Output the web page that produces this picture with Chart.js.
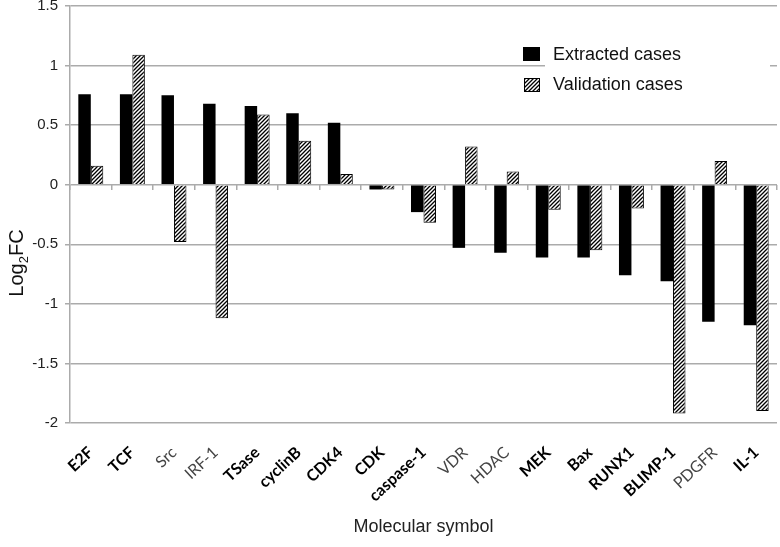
<!DOCTYPE html>
<html>
<head>
<meta charset="utf-8">
<script src="https://cdn.jsdelivr.net/npm/chart.js@4.4.1/dist/chart.umd.min.js"></script>
<style>
  html, body { margin: 0; padding: 0; background: #fff; }
  #wrap { width: 780px; height: 547px; position: relative; }
</style>
</head>
<body>
<div id="wrap"><canvas id="myChart" width="780" height="547"></canvas></div>
<script>
const categories = ["E2F", "TCF", "Src", "IRF-1", "TSase", "cyclinB", "CDK4", "CDK", "caspase-1",
    "VDR", "HDAC", "MEK", "Bax", "RUNX1", "BLIMP-1", "PDGFR", "IL-1"];
const extractedCases = [0.76, 0.76, 0.75, 0.68, 0.66, 0.60, 0.52, -0.04, -0.23,
    -0.53, -0.57, -0.61, -0.61, -0.76, -0.81, -1.15, -1.18];
const validationCases = [0.16, 1.09, -0.48, -1.12, 0.59, 0.37, 0.09, -0.04, -0.32,
    0.32, 0.11, -0.21, -0.55, -0.20, -1.92, 0.20, -1.90];
const boldLabels = ["E2F", "TCF", "TSase", "cyclinB", "CDK4", "CDK", "caspase-1",
    "MEK", "Bax", "RUNX1", "BLIMP-1", "IL-1"];
const seriesNames = ["Extracted cases", "Validation cases"];
const yMin = -2, yMax = 1.5, yStep = 0.5;

const gridColor = "#ababab";

// diagonal hatch used for the validation bars
const makeHatch = () => {
    const c = document.createElement("canvas");
    c.width = 4; c.height = 4;
    const g = c.getContext("2d");
    g.fillStyle = "#fff";
    g.fillRect(0, 0, 4, 4);
    g.strokeStyle = "#000";
    g.lineWidth = 1.3;
    g.beginPath();
    g.moveTo(-1, 5); g.lineTo(5, -1);
    g.moveTo(-1, 1); g.lineTo(1, -1);
    g.moveTo(3, 5); g.lineTo(5, 3);
    g.stroke();
    return g.createPattern(c, "repeat");
};
const hatch = makeHatch();

// legend in the top right and the y title with its subscript
const extras = {
    id: "extras",
    afterDatasetsDraw(chart) {
        const ctx = chart.ctx;
        ctx.save();
        ctx.fillStyle = "#fff";
        ctx.fillRect(545, 40, 225, 60);

        ctx.fillStyle = "#000";
        ctx.fillRect(523, 47, 17, 14);
        ctx.fillStyle = hatch;
        ctx.fillRect(524, 78, 15, 13);
        ctx.strokeStyle = "#000";
        ctx.lineWidth = 1;
        ctx.strokeRect(524.5, 78.5, 15, 13);

        ctx.fillStyle = "#111";
        ctx.font = "18px 'Liberation Sans', Arial, sans-serif";
        ctx.textBaseline = "middle";
        ctx.fillText(seriesNames[0], 553, 55);
        ctx.fillText(seriesNames[1], 553, 85);

        // Log2FC
        ctx.translate(16, 263);
        ctx.rotate(-Math.PI / 2);
        ctx.font = "20px 'Liberation Sans', Arial, sans-serif";
        const w1 = ctx.measureText("Log").width;
        ctx.font = "13px 'Liberation Sans', Arial, sans-serif";
        const w2 = ctx.measureText("2").width;
        ctx.font = "20px 'Liberation Sans', Arial, sans-serif";
        const w3 = ctx.measureText("FC").width;
        let x = -(w1 + w2 + w3) / 2;
        ctx.textBaseline = "alphabetic";
        ctx.fillStyle = "#111";
        ctx.fillText("Log", x, 7);
        x += w1;
        ctx.font = "13px 'Liberation Sans', Arial, sans-serif";
        ctx.fillText("2", x, 12);
        x += w2;
        ctx.font = "20px 'Liberation Sans', Arial, sans-serif";
        ctx.fillText("FC", x, 7);
        ctx.restore();
    }
};

const ctx = document.getElementById("myChart");

const myChart = new Chart(ctx, {
    type: "bar",
    data: {
        labels: categories,
        datasets: [{
            label: seriesNames[0],
            data: extractedCases,
            backgroundColor: "#000",
            borderWidth: 0
        }, {
            label: seriesNames[1],
            data: validationCases,
            backgroundColor: hatch,
            borderColor: "#000",
            borderWidth: 1
        }]
    },
    options: {
        responsive: false,
        animation: false,
        barPercentage: 1,
        categoryPercentage: 0.6,
        layout: { padding: { left: 0, right: 3, top: 6, bottom: 0 } },
        plugins: {
            legend: { display: false },
            tooltip: { enabled: false }
        },
        scales: {
            x: {
                grid: { display: false },
                border: { display: false },
                ticks: {
                    autoSkip: false,
                    minRotation: 43,
                    maxRotation: 43,
                    padding: 12,
                    color: (c) => boldLabels.includes(categories[c.index]) ? "#000" : "#444",
                    font: (c) => ({
                        family: "Lato, 'Open Sans', sans-serif",
                        size: 16,
                        weight: boldLabels.includes(categories[c.index]) ? "bold" : "normal"
                    })
                },
                title: {
                    display: true,
                    text: "Molecular symbol",
                    color: "#222",
                    font: { family: "'Liberation Sans', Arial, sans-serif", size: 18 },
                    padding: { top: 4, bottom: 9 }
                },
                afterFit: (s) => { s.height = 124; s.paddingLeft = 0; s.paddingRight = 0; }
            },
            x2: {
                type: "category",
                position: { y: 0 },
                offset: true,
                grid: {
                    display: true,
                    offset: true,
                    drawOnChartArea: false,
                    drawTicks: true,
                    tickLength: 5,
                    color: gridColor,
                    lineWidth: 1.5
                },
                border: { display: false },
                ticks: { display: false }
            },
            y: {
                min: yMin,
                max: yMax,
                ticks: {
                    stepSize: yStep,
                    padding: 7,
                    color: "#222",
                    font: { family: "'Liberation Sans', Arial, sans-serif", size: 15 },
                    callback: (v) => String(v)
                },
                grid: {
                    color: gridColor,
                    lineWidth: 1.5,
                    tickLength: 5
                },
                border: { display: true, color: gridColor, width: 1.5 },
                afterFit: (s) => { s.width = 70; s.paddingTop = 0; s.paddingBottom = 0; }
            }
        }
    },
    plugins: [extras]
});
</script>
</body>
</html>
